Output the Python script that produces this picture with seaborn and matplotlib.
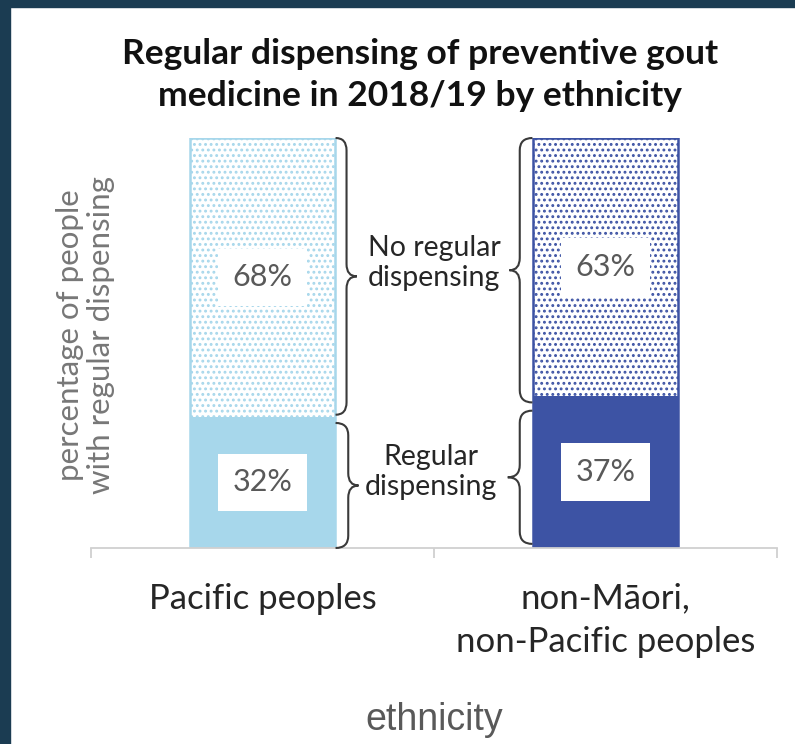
import matplotlib
matplotlib.use("Agg")
import matplotlib.pyplot as plt
from matplotlib.patches import Rectangle, PathPatch
from matplotlib.path import Path
import seaborn as sns
import pandas as pd

# Data
categories = ["Pacific peoples", "non-Māori,\nnon-Pacific peoples"]
regular = [32, 37]
no_regular = [68, 63]
bar_colors = ["#a7d7eb", "#3d53a4"]
title_text = "Regular dispensing of preventive gout\nmedicine in 2018/19 by ethnicity"

sns.set_theme(style="white")
plt.rcParams["font.family"] = ["Lato", "DejaVu Sans"]
plt.rcParams["hatch.linewidth"] = 1.3

W, H = 795, 744
fig = plt.figure(figsize=(W / 100, H / 100), dpi=100)
fig.patch.set_facecolor("white")

# dark frame along left and top edges
border = "#1b3c52"
fig.patches.append(Rectangle((0, 0), 10 / W, 1, transform=fig.transFigure,
                             color=border, zorder=-1))
fig.patches.append(Rectangle((0, 1 - 7 / H), 1, 7 / H, transform=fig.transFigure,
                             color=border, zorder=-1))

ax = fig.add_axes([91 / W, 1 - 548 / H, (777 - 91) / W, (548 - 138) / H])

totals = [r + n for r, n in zip(regular, no_regular)]
df_total = pd.DataFrame({"ethnicity": categories, "share": totals})
df_reg = pd.DataFrame({"ethnicity": categories, "share": regular})
palette = dict(zip(categories, bar_colors))

# full-height bars, restyled as dotted "no regular dispensing" segments
sns.barplot(data=df_total, x="ethnicity", y="share", hue="ethnicity",
            order=categories, hue_order=categories, palette=palette,
            width=0.42, legend=False, ax=ax)
top_patches = list(ax.patches)
for p, c in zip(top_patches, bar_colors):
    p.set_facecolor("white")
    p.set_edgecolor(c)
    p.set_hatch("...")
    p.set_linewidth(1.8)

# solid "regular dispensing" segments
sns.barplot(data=df_reg, x="ethnicity", y="share", hue="ethnicity",
            order=categories, hue_order=categories, palette=palette,
            width=0.42, legend=False, ax=ax, saturation=1)
for p in ax.patches[len(top_patches):]:
    p.set_linewidth(0)

ax.set_xlim(-0.5, 1.5)
ax.set_ylim(0, 100)

# value labels in white boxes
label_kw = dict(ha="center", va="center", fontsize=22, color="#595959",
                bbox=dict(boxstyle="square,pad=0.48", fc="white", ec="none"))
for i, (r, n) in enumerate(zip(regular, no_regular)):
    ax.text(i, r / 2, f"{r}%", **label_kw)
    ax.text(i, r + n / 2, f"{n}%", **label_kw)


def brace(ax, x_edge, x_line, x_tip, lo, hi, r=3.0, color="#3a3a3a"):
    mid = (lo + hi) / 2
    verts = [
        (x_edge, hi), (x_line, hi), (x_line, hi - r),
        (x_line, mid + r), (x_line, mid), (x_tip, mid),
        (x_line, mid), (x_line, mid - r),
        (x_line, lo + r), (x_line, lo), (x_edge, lo),
    ]
    codes = [Path.MOVETO, Path.CURVE3, Path.CURVE3,
             Path.LINETO, Path.CURVE3, Path.CURVE3,
             Path.CURVE3, Path.CURVE3,
             Path.LINETO, Path.CURVE3, Path.CURVE3]
    ax.add_patch(PathPatch(Path(verts, codes), fc="none", ec=color,
                           lw=1.5, clip_on=False, zorder=5))


half = 0.21
# braces to the right of the first bar
brace(ax, half + 0.003, half + 0.035, half + 0.065, 32.5, 100)
brace(ax, half + 0.003, half + 0.04, half + 0.07, 0, 30.5)
# braces to the left of the second bar
brace(ax, 1 - half - 0.003, 1 - half - 0.04, 1 - half - 0.07, 35.5, 100)
brace(ax, 1 - half - 0.003, 1 - half - 0.04, 1 - half - 0.075, 1, 33.5)

ax.text(0.5, 69.5, "No regular\ndispensing", ha="center", va="center",
        fontsize=20.5, color="#262626", linespacing=1.15)
ax.text(0.49, 18.5, "Regular\ndispensing", ha="center", va="center",
        fontsize=20.5, color="#262626", linespacing=1.2)

# axes styling
for s in ("left", "top", "right"):
    ax.spines[s].set_visible(False)
ax.spines["bottom"].set_color("#d0d0d0")
ax.spines["bottom"].set_linewidth(1.3)
ax.set_yticks([])
ax.set_xticks([-0.5, 0.5, 1.5], minor=True)
ax.tick_params(axis="x", which="minor", length=7, width=1.3, color="#d0d0d0",
               direction="out", bottom=True)
ax.tick_params(axis="x", which="major", length=0, pad=25, labelsize=25,
               labelcolor="#262626")
for t in ax.get_xticklabels():
    t.set_linespacing(1.42)

ax.set_xlabel("ethnicity", fontsize=27, color="#595959",
              family=["Liberation Sans", "DejaVu Sans"], labelpad=0, va="center")
ax.xaxis.set_label_coords(0.5, -0.42)
ax.set_ylabel("percentage of people\nwith regular dispensing", fontsize=22.5,
              color="#777777", linespacing=1.1, va="center")
ax.yaxis.set_label_coords(-0.008, 0.52)

fig.text(420 / W, 1 - 75 / H, title_text, ha="center", va="center",
         fontsize=25.5, fontweight="bold", color="#111111", linespacing=1.35)

fig.savefig("out.png", dpi=100)
